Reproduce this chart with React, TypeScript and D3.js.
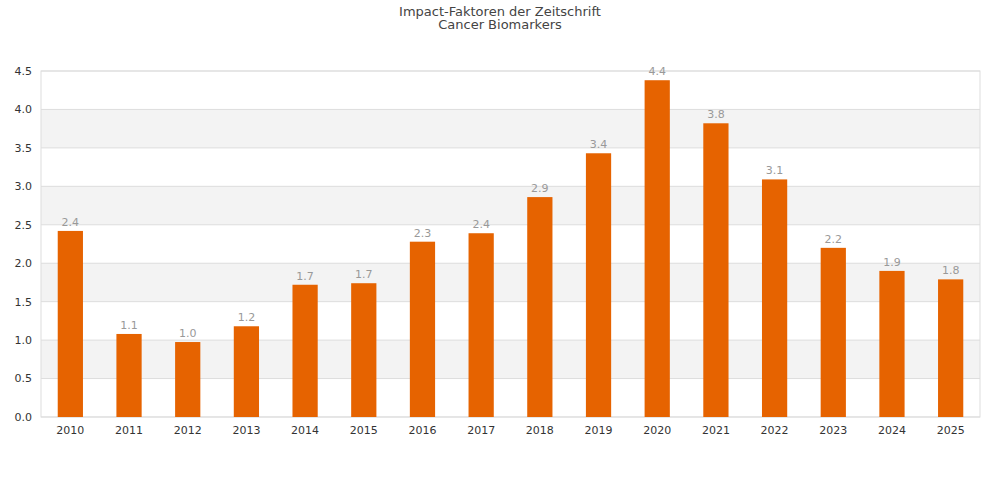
import React from "react";
import * as d3 from "d3";

const years = ["2010","2011","2012","2013","2014","2015","2016","2017","2018","2019","2020","2021","2022","2023","2024","2025"];
const values = [2.42,1.08,0.975,1.18,1.72,1.74,2.28,2.39,2.86,3.43,4.38,3.82,3.09,2.20,1.90,1.79];
const yTicks = [0,0.5,1,1.5,2,2.5,3,3.5,4,4.5];

export default function App() {
  const W = 1000, H = 500;
  const m = { l: 41, r: 20, t: 71, b: 83 };
  const x = d3.scaleBand().domain(years).range([m.l, W - m.r]).paddingInner(0.57).paddingOuter(0.285);
  const y = d3.scaleLinear().domain([0, 4.5]).range([H - m.b, m.t]);
  const font = "'DejaVu Sans', sans-serif";
  return (
    <svg width={W} height={H} style={{ position: "absolute", left: 0, top: 0 }}>
      <rect width={W} height={H} fill="#fff" />
      {yTicks.slice(0, -1).map((t, i) => i % 2 === 1 ? (
        <rect key={"b" + t} x={m.l} width={W - m.r - m.l} y={y(t + 0.5)} height={y(t) - y(t + 0.5)} fill="#f3f3f3" />
      ) : null)}
      {yTicks.map(t => (
        <g key={t}>
          <line x1={m.l} x2={W - m.r} y1={y(t)} y2={y(t)} stroke="#ddd" />
          <text x={m.l - 9} y={y(t)} dy="0.35em" textAnchor="end" fontSize={11} fill="#333" fontFamily={font}>{t.toFixed(1)}</text>
        </g>
      ))}
      <rect x={m.l} y={m.t} width={W - m.r - m.l} height={H - m.b - m.t} fill="none" stroke="#ddd" />
      {years.map((yr, i) => (
        <g key={yr}>
          <rect x={x(yr)} y={y(values[i])} width={x.bandwidth()} height={y(0) - y(values[i])} fill="#e66300" />
          <text x={x(yr)! + x.bandwidth() / 2} y={y(values[i]) - 5} textAnchor="middle" fontSize={11} fill="#999" fontFamily={font}>{values[i].toFixed(1)}</text>
          <text x={x(yr)! + x.bandwidth() / 2} y={434} textAnchor="middle" fontSize={11} fill="#333" fontFamily={font}>{yr}</text>
        </g>
      ))}
      <text x={W / 2} y={16} textAnchor="middle" fontSize={13} fill="#444" fontFamily={font}>Impact-Faktoren der Zeitschrift</text>
      <text x={W / 2} y={29} textAnchor="middle" fontSize={13} fill="#444" fontFamily={font}>Cancer Biomarkers</text>
    </svg>
  );
}
